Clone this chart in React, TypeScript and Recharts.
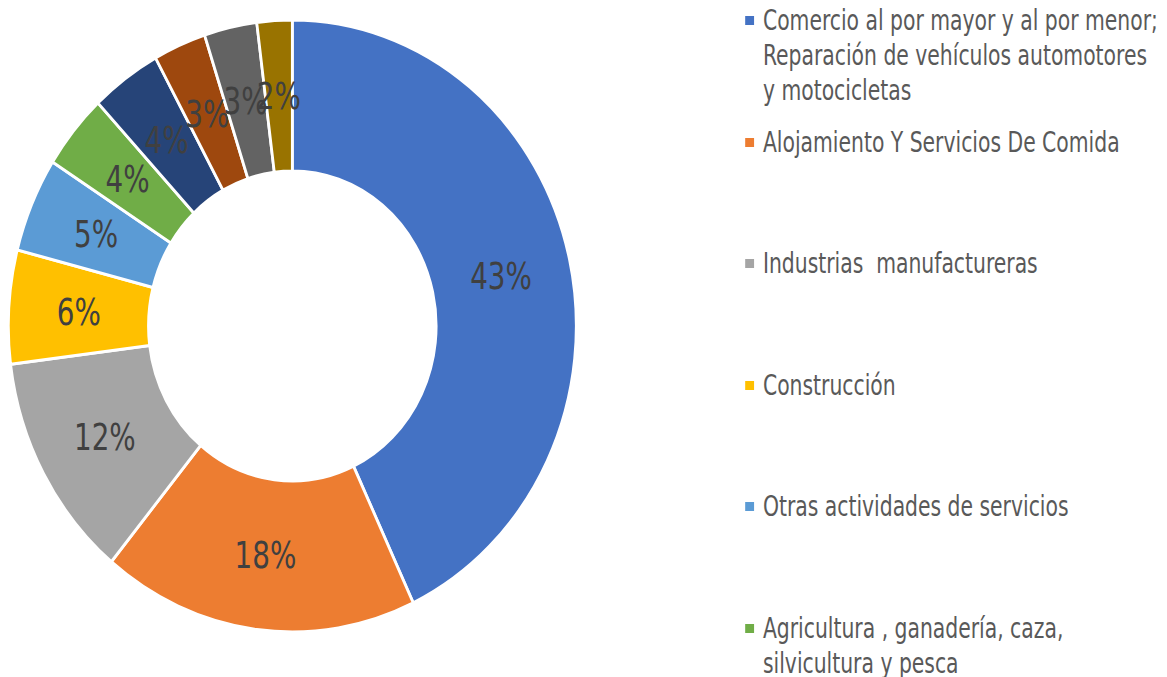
import React from 'react'
import { PieChart, Pie, Cell, Legend } from 'recharts'

// sectores económicos (las 4 últimas entradas de la leyenda quedan recortadas en el original)
const categories = [
  'Comercio al por mayor y al por menor;\nReparación de vehículos automotores\ny motocicletas',
  'Alojamiento Y Servicios De Comida',
  'Industrias  manufactureras',
  'Construcción',
  'Otras actividades de servicios',
  'Agricultura , ganadería, caza,\nsilvicultura y pesca',
  'Transporte y almacenamiento',
  'Actividades profesionales, científicas y técnicas',
  'Información y comunicaciones',
  'Otras actividades',
]

const shares = [43, 18, 12, 6, 5, 4, 4, 3, 3, 2]

const colors = [
  '#4472C4', '#ED7D31', '#A5A5A5', '#FFC000', '#5B9BD5',
  '#70AD47', '#264478', '#9E480E', '#636363', '#997300',
]

// only the first six legend entries fit in the picture
const VISIBLE_LEGEND = 6

const chartData = categories.map((name, i) => ({ name, value: shares[i] }))

const FONT = '"Liberation Sans Narrow", "Arial Narrow", "DejaVu Sans Condensed", "Liberation Sans", Arial, sans-serif'
const RADIAN = Math.PI / 180
// the reference is squeezed horizontally, so draw wider and compress
const SQUEEZE = 0.928
const WIDTH = Math.round(1167 / SQUEEZE)

const renderLabel = ({ cx, cy, midAngle, innerRadius, outerRadius, value }: any) => {
  const r = (innerRadius + outerRadius) / 2
  const x = cx + r * Math.cos(-midAngle * RADIAN)
  const y = cy + r * Math.sin(-midAngle * RADIAN)
  return (
    <text
      x={0}
      y={0}
      transform={`translate(${x},${y}) scale(0.9,1)`}
      textAnchor="middle"
      dominantBaseline="central"
      fill="#404040"
      fontSize={37}
      fontFamily={FONT}
    >
      {value}%
    </text>
  )
}

const renderLegend = () => (
  <div
    style={{
      fontFamily: FONT, fontSize: 28, color: '#595959',
      transform: 'scaleX(0.87)', transformOrigin: '0 0', width: 520,
    }}
  >
    {categories.slice(0, VISIBLE_LEGEND).map((name, i) => (
      <div key={name} style={{ position: 'relative', height: 121.6, paddingLeft: 22 }}>
        <span
          style={{
            position: 'absolute', left: 0, top: 13, width: 11, height: 9,
            background: colors[i],
          }}
        />
        <div style={{ whiteSpace: 'pre', lineHeight: '35px' }}>{name}</div>
      </div>
    ))}
  </div>
)

export default function App() {
  return (
    <div style={{ position: 'absolute', left: 0, top: 0, width: 1167, height: 677, overflow: 'hidden', background: '#fff' }}>
      <div style={{ width: WIDTH, height: 677, transform: `scaleX(${SQUEEZE})`, transformOrigin: '0 0' }}>
        <PieChart width={WIDTH} height={677} margin={{ top: 0, right: 0, bottom: 0, left: 0 }}>
          <Pie
            data={chartData}
            dataKey="value"
            nameKey="name"
            cx={315}
            cy={326}
            innerRadius={155}
            outerRadius={306}
            startAngle={90}
            endAngle={-270}
            stroke="#ffffff"
            strokeWidth={3}
            label={renderLabel}
            labelLine={false}
            isAnimationActive={false}
          >
            {chartData.map((d, i) => (
              <Cell key={d.name} fill={colors[i]} />
            ))}
          </Pie>
          <Legend
            layout="vertical"
            align="right"
            verticalAlign="top"
            content={renderLegend}
            wrapperStyle={{ position: 'absolute', left: 803, top: 3, width: 450 }}
          />
        </PieChart>
      </div>
    </div>
  )
}
